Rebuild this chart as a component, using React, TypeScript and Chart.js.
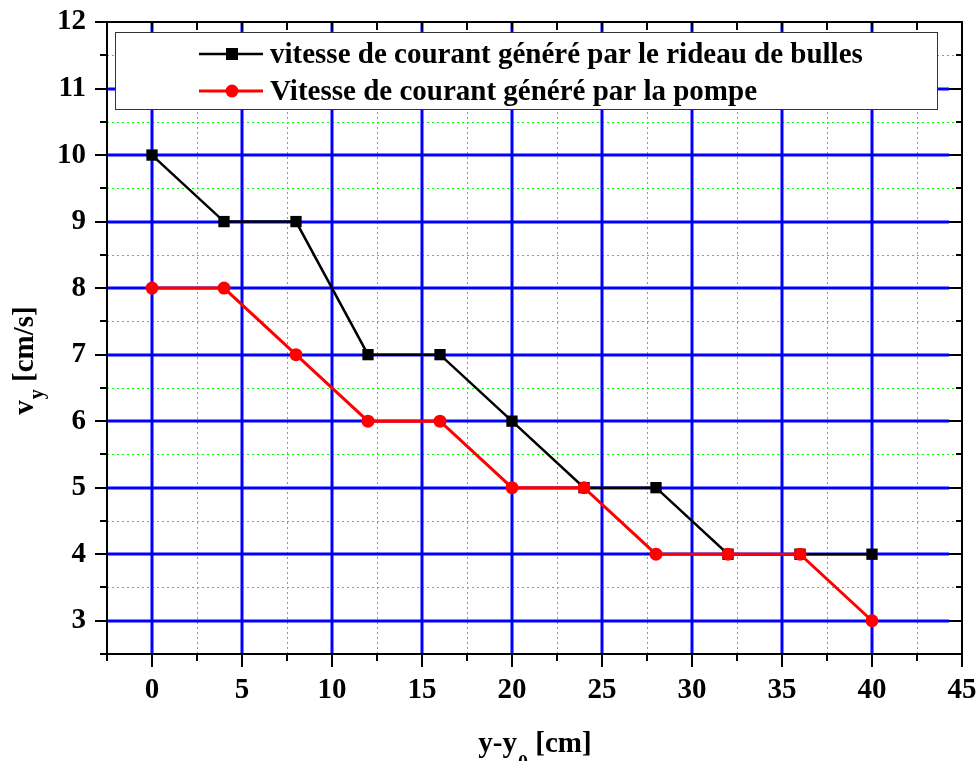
import React, { useEffect, useRef } from 'react';
import { Chart, registerables } from 'chart.js';

Chart.register(...registerables);

// ---- data ----
const positions = [0, 4, 8, 12, 16, 20, 24, 28, 32, 36, 40];
const bubbleCurtain = [10, 9, 9, 7, 7, 6, 5, 5, 4, 4, 4];
const pump = [8, 8, 7, 6, 6, 5, 5, 4, 4, 4, 3];
const seriesLabels = [
  'vitesse de courant généré par le rideau de bulles',
  'Vitesse de courant généré par la pompe',
];
const xTitleParts = ['y-y', '0', ' [cm]'];
const yTitleParts = ['v', 'y', ' [cm/s]'];
const xMajorTicks = [0, 5, 10, 15, 20, 25, 30, 35, 40];
const yMajorTicks = [3, 4, 5, 6, 7, 8, 9, 10, 11];

const FAMILY = '"Liberation Serif", "Times New Roman", serif';

const decor = {
  id: 'decor',
  beforeDatasetsDraw(chart: any) {
    const { ctx, chartArea: a, scales } = chart;
    const x = scales.x;
    const y = scales.y;
    ctx.save();
    // minor dotted green grid
    ctx.strokeStyle = '#00ff00';
    ctx.lineWidth = 1;
    ctx.setLineDash([2, 3]);
    for (let v = 2.5; v < 45; v += 5) {
      const px = Math.round(x.getPixelForValue(v)) + 0.5;
      ctx.beginPath();
      ctx.moveTo(px, a.top);
      ctx.lineTo(px, a.bottom);
      ctx.stroke();
    }
    for (let v = 3.5; v < 12; v += 1) {
      const py = Math.round(y.getPixelForValue(v)) + 0.5;
      ctx.beginPath();
      ctx.moveTo(a.left, py);
      ctx.lineTo(a.right, py);
      ctx.stroke();
    }
    // major blue grid
    ctx.setLineDash([]);
    ctx.strokeStyle = '#0000ff';
    ctx.lineWidth = 3;
    xMajorTicks.forEach((v) => {
      const px = Math.round(x.getPixelForValue(v));
      ctx.beginPath();
      ctx.moveTo(px, a.top);
      ctx.lineTo(px, a.bottom);
      ctx.stroke();
    });
    yMajorTicks.forEach((v) => {
      const py = Math.round(y.getPixelForValue(v));
      ctx.beginPath();
      ctx.moveTo(a.left, py);
      ctx.lineTo(a.right - 13, py);
      ctx.stroke();
    });
    ctx.restore();
  },
  afterDatasetsDraw(chart: any) {
    const { ctx, chartArea: a, scales } = chart;
    const x = scales.x;
    const y = scales.y;
    ctx.save();
    ctx.strokeStyle = '#000';
    ctx.lineWidth = 2;
    ctx.setLineDash([]);
    // ticks
    for (let v = -2.5; v <= 45; v += 2.5) {
      const px = Math.round(x.getPixelForValue(v));
      const major = v % 5 === 0;
      ctx.beginPath();
      ctx.moveTo(px, a.bottom);
      ctx.lineTo(px, a.bottom + (major ? 13 : 7));
      ctx.moveTo(px, a.top);
      ctx.lineTo(px, a.top + 8);
      ctx.stroke();
    }
    for (let v = 2.5; v <= 12; v += 0.5) {
      const py = Math.round(y.getPixelForValue(v));
      const major = Number.isInteger(v);
      ctx.beginPath();
      ctx.moveTo(a.left, py);
      ctx.lineTo(a.left - (major ? 12 : 7), py);
      ctx.moveTo(a.right, py);
      ctx.lineTo(a.right - (major ? 13 : 6), py);
      ctx.stroke();
    }
    // frame
    ctx.strokeRect(a.left, a.top, a.right - a.left, a.bottom - a.top);

    // legend
    const lx = a.left + 8;
    const ly = a.top + 10;
    const lw = a.right - a.left - 33;
    const lh = 77;
    ctx.fillStyle = '#ffffff';
    ctx.fillRect(lx, ly, lw, lh);
    ctx.lineWidth = 1;
    ctx.strokeStyle = '#333333';
    ctx.strokeRect(lx + 0.5, ly + 0.5, lw, lh);
    const rows = [
      { label: seriesLabels[0], color: '#000000', shape: 'rect', yy: ly + 22 },
      { label: seriesLabels[1], color: '#ff0000', shape: 'circle', yy: ly + 59 },
    ];
    rows.forEach((r) => {
      ctx.strokeStyle = r.color;
      ctx.fillStyle = r.color;
      ctx.lineWidth = r.shape === 'rect' ? 2.5 : 3;
      ctx.beginPath();
      ctx.moveTo(lx + 84, r.yy);
      ctx.lineTo(lx + 148, r.yy);
      ctx.stroke();
      const cx = lx + 117;
      if (r.shape === 'rect') {
        ctx.fillRect(cx - 6, r.yy - 6, 12, 12);
      } else {
        ctx.beginPath();
        ctx.arc(cx, r.yy, 6.5, 0, Math.PI * 2);
        ctx.fill();
      }
      ctx.fillStyle = '#000';
      ctx.font = `bold 29px ${FAMILY}`;
      ctx.textAlign = 'left';
      ctx.textBaseline = 'alphabetic';
      ctx.fillText(r.label, lx + 155, r.yy + 9);
    });
    ctx.restore();
  },
  afterDraw(chart: any) {
    const { ctx, chartArea: a } = chart;
    ctx.save();
    ctx.fillStyle = '#000';
    ctx.textBaseline = 'alphabetic';
    ctx.textAlign = 'left';
    const big = `bold 29px ${FAMILY}`;
    const small = `bold 20px ${FAMILY}`;
    const drawParts = (parts: string[], cx: number, by: number, sub: number) => {
      ctx.font = big;
      const w0 = ctx.measureText(parts[0]).width;
      const w2 = ctx.measureText(parts[2]).width;
      ctx.font = small;
      const w1 = ctx.measureText(parts[1]).width;
      let sx = cx - (w0 + w1 + w2) / 2;
      ctx.font = big;
      ctx.fillText(parts[0], sx, by);
      sx += w0 + 1;
      ctx.font = small;
      ctx.fillText(parts[1], sx, by + sub);
      sx += w1;
      ctx.font = big;
      ctx.fillText(parts[2], sx, by);
    };
    // x title
    drawParts(xTitleParts, (a.left + a.right) / 2, a.bottom + 98, 17);
    // y title
    ctx.translate(a.left - 74, (a.top + a.bottom) / 2 + 23);
    ctx.rotate(-Math.PI / 2);
    drawParts(yTitleParts, 0, 0, 10);
    ctx.restore();
  },
};

export default function App() {
  const ref = useRef<HTMLCanvasElement | null>(null);
  useEffect(() => {
    if (!ref.current) return;
    const tickFont = { family: FAMILY, size: 29, weight: 'bold' as const };
    const zeroPad = (s: any) => {
      s.paddingTop = 0;
      s.paddingBottom = 0;
      s.paddingLeft = 0;
      s.paddingRight = 0;
    };
    const chart = new Chart(ref.current, {
      type: 'line',
      data: {
        datasets: [
          {
            label: seriesLabels[1],
            data: positions.map((p, i) => ({ x: p, y: pump[i] })),
            borderColor: '#ff0000',
            backgroundColor: '#ff0000',
            borderWidth: 3,
            pointStyle: 'circle',
            pointRadius: 6.5,
            pointBorderWidth: 0,
            pointBackgroundColor: '#ff0000',
            order: 0,
          },
          {
            label: seriesLabels[0],
            data: positions.map((p, i) => ({ x: p, y: bubbleCurtain[i] })),
            borderColor: '#000000',
            backgroundColor: '#000000',
            borderWidth: 2.5,
            pointStyle: 'rect',
            pointRadius: 8,
            pointBorderWidth: 0,
            pointBackgroundColor: '#000000',
            order: 1,
          },
        ],
      },
      options: {
        responsive: false,
        animation: false,
        layout: { padding: { top: 22, right: 16, left: 0, bottom: 0 } },
        plugins: { legend: { display: false }, tooltip: { enabled: false } },
        scales: {
          x: {
            type: 'linear',
            min: -2.5,
            max: 45,
            grid: { display: false, drawTicks: false },
            border: { display: false },
            ticks: {
              stepSize: 2.5,
              autoSkip: false,
              maxRotation: 0,
              padding: 19,
              color: '#000',
              font: tickFont,
              callback: (v: any) => (v >= 0 && v % 5 === 0 ? String(v) : ''),
            },
            afterFit: (s: any) => {
              s.height = 107;
              zeroPad(s);
            },
          },
          y: {
            type: 'linear',
            min: 2.5,
            max: 12,
            grid: { display: false, drawTicks: false },
            border: { display: false },
            ticks: {
              stepSize: 0.5,
              autoSkip: false,
              padding: 21,
              color: '#000',
              font: tickFont,
              callback: (v: any) => (Number.isInteger(v) && v >= 3 ? String(v) : ''),
            },
            afterFit: (s: any) => {
              s.width = 107;
              zeroPad(s);
            },
          },
        },
      },
      plugins: [decor],
    });
    return () => chart.destroy();
  }, []);
  return (
    <div style={{ position: 'absolute', left: 0, top: 0, width: 978, height: 761, background: '#fff' }}>
      <canvas ref={ref} width={978} height={761} />
    </div>
  );
}
